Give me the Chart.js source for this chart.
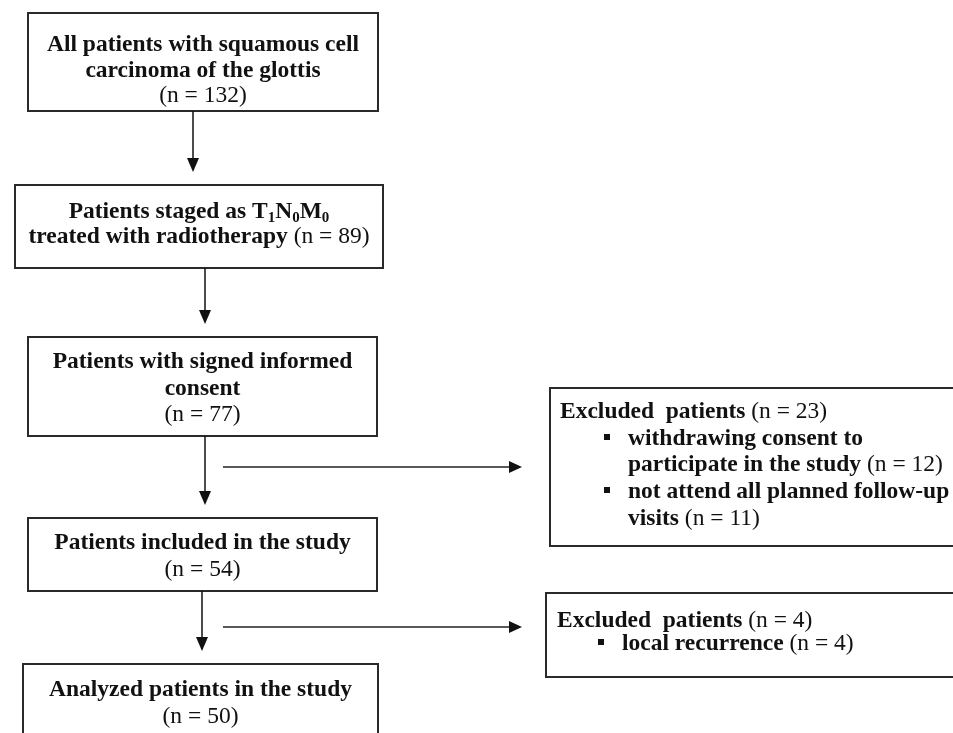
<!DOCTYPE html>
<html>
<head>
<meta charset="utf-8">
<script src="https://cdn.jsdelivr.net/npm/chart.js@4.4.0/dist/chart.umd.min.js"></script>
<style>
html,body{margin:0;padding:0;background:#fff}
canvas{display:block}
</style>
</head>
<body>
<canvas id="flow" width="953" height="733"></canvas>
<script>
// --- data ---
// main column stages (text lines, "_d" = subscript digit)
const stageLines = [
    ['All patients with squamous cell', 'carcinoma of the glottis'],
    ['Patients staged as T_1N_0M_0', 'treated with radiotherapy'],
    ['Patients with signed informed', 'consent'],
    ['Patients included in the study'],
    ['Analyzed patients in the study']
]
const stageCounts = [132, 89, 77, 54, 50]
const countOnSameLine = [false, true, false, false, false]

// side boxes: excluded patients
const excludedTotals = [23, 4]
const excludedReasons = [
    [['withdrawing consent to', 'participate in the study'], ['not attend all planned follow-up', 'visits']],
    [['local recurrence']]
]
const excludedCounts = [[12, 11], [4]]

// --- layout (chart units, 1 unit = 1px), lines = text baselines ---
const stageBoxes = [
    {x0: 28, x1: 378, y0: 13, y1: 111, lines: [51, 77, 102]},
    {x0: 15, x1: 383, y0: 185, y1: 268, lines: [218, 243]},
    {x0: 28, x1: 377, y0: 337, y1: 436, lines: [368, 395, 421]},
    {x0: 28, x1: 377, y0: 518, y1: 591, lines: [549, 576]},
    {x0: 23, x1: 378, y0: 664, y1: 760, lines: [696, 723]}
]
const arrowX = [193, 205, 205, 202]
const sideBoxes = [
    {x0: 550, x1: 965, y0: 388, y1: 546, textX: 560, bulletX: 607, itemX: 628, lines: [418, 445, 471, 498, 525], fromY: 467},
    {x0: 546, x1: 965, y0: 593, y1: 677, textX: 557, bulletX: 601, itemX: 622, lines: [627, 650], fromY: 627}
]
const sideArrowFrom = 223
const sideArrowTo = 522

const FS = 23.5
function fontFor(r){
    const size = r.sub ? Math.round(FS * 0.62) : FS
    return (r.bold ? 'bold ' : '') + size + 'px "Liberation Serif", "Times New Roman", serif'
}

function parseRuns(txt, bold){
    let runs = []
    let parts = txt.split(/(_\d)/)
    parts.forEach(p=>{
        if(!p) return
        if(p[0]=='_') runs.push({t: p.slice(1), bold: bold, sub: true})
        else runs.push({t: p, bold: bold})
    })
    return runs
}

function drawRuns(ctx, runs, x, y, align){
    let widths = runs.map(r=>{ ctx.font = fontFor(r); return ctx.measureText(r.t).width })
    let total = widths.reduce((a,b)=>a+b, 0)
    let cx = align=='center' ? x - total/2 : x
    runs.forEach((r, i)=>{
        ctx.font = fontFor(r)
        ctx.fillText(r.t, cx, y + (r.sub ? 4 : 0))
        cx += widths[i]
    })
}

function box(ctx, X, Y, b){
    ctx.lineWidth = 2
    ctx.strokeStyle = '#2a2a2a'
    ctx.strokeRect(X(b.x0), Y(b.y0), X(b.x1)-X(b.x0), Y(b.y1)-Y(b.y0))
}

function arrowDown(ctx, x, y0, y1){
    ctx.lineWidth = 1.5
    ctx.strokeStyle = '#111'
    ctx.beginPath(); ctx.moveTo(x, y0); ctx.lineTo(x, y1-13); ctx.stroke()
    ctx.fillStyle = '#111'
    ctx.beginPath(); ctx.moveTo(x-6, y1-14); ctx.lineTo(x+6, y1-14); ctx.lineTo(x, y1); ctx.closePath(); ctx.fill()
}

function arrowRight(ctx, x0, x1, y){
    ctx.lineWidth = 1.5
    ctx.strokeStyle = '#222'
    ctx.beginPath(); ctx.moveTo(x0, y); ctx.lineTo(x1-12, y); ctx.stroke()
    ctx.fillStyle = '#111'
    ctx.beginPath(); ctx.moveTo(x1-13, y-6); ctx.lineTo(x1-13, y+6); ctx.lineTo(x1, y); ctx.closePath(); ctx.fill()
}

const flowPlugin = {
    id: 'flow',
    afterDraw(chart){
        const ctx = chart.ctx
        const X = v => chart.scales.x.getPixelForValue(v)
        const Y = v => chart.scales.y.getPixelForValue(v)
        ctx.save()
        ctx.textBaseline = 'alphabetic'
        ctx.fillStyle = '#111'

        // main column
        stageLines.forEach((lines, i)=>{
            const b = stageBoxes[i]
            box(ctx, X, Y, b)
            const cx = X((b.x0 + b.x1)/2)
            ctx.fillStyle = '#111'
            lines.forEach((ln, j)=>{
                let runs = parseRuns(ln, true)
                if(countOnSameLine[i] && j==lines.length-1) runs.push({t: ' (n = ' + stageCounts[i] + ')', bold: false})
                drawRuns(ctx, runs, cx, Y(b.lines[j]), 'center')
            })
            if(!countOnSameLine[i]) drawRuns(ctx, [{t: '(n = ' + stageCounts[i] + ')', bold: false}], cx, Y(b.lines[lines.length]), 'center')
            if(i < stageLines.length-1){
                arrowDown(ctx, X(arrowX[i]), Y(b.y1), Y(stageBoxes[i+1].y0) - 13)
            }
        })

        // side boxes
        excludedTotals.forEach((tot, i)=>{
            const b = sideBoxes[i]
            box(ctx, X, Y, b)
            arrowRight(ctx, X(sideArrowFrom), X(sideArrowTo), Y(b.fromY))
            ctx.fillStyle = '#111'
            drawRuns(ctx, [{t: 'Excluded  patients', bold: true}, {t: ' (n = ' + tot + ')', bold: false}], X(b.textX), Y(b.lines[0]), 'left')
            let k = 1
            excludedReasons[i].forEach((reason, j)=>{
                ctx.fillRect(X(b.bulletX)-3, Y(b.lines[k])-11, 6, 6)
                reason.forEach((ln, m)=>{
                    let runs = [{t: ln, bold: true}]
                    if(m==reason.length-1) runs.push({t: ' (n = ' + excludedCounts[i][j] + ')', bold: false})
                    drawRuns(ctx, runs, X(b.itemX), Y(b.lines[k]), 'left')
                    k++
                })
            })
        })
        ctx.restore()
    }
}

new Chart(document.getElementById('flow').getContext('2d'), {
    type: 'scatter',
    data: { datasets: [{ data: [] }] },
    options: {
        responsive: false,
        animation: false,
        events: [],
        layout: { padding: 0 },
        plugins: { legend: { display: false }, tooltip: { enabled: false } },
        scales: {
            x: { type: 'linear', min: 0, max: 953, display: false },
            y: { type: 'linear', min: 0, max: 733, reverse: true, display: false }
        }
    },
    plugins: [flowPlugin]
})
</script>
</body>
</html>
